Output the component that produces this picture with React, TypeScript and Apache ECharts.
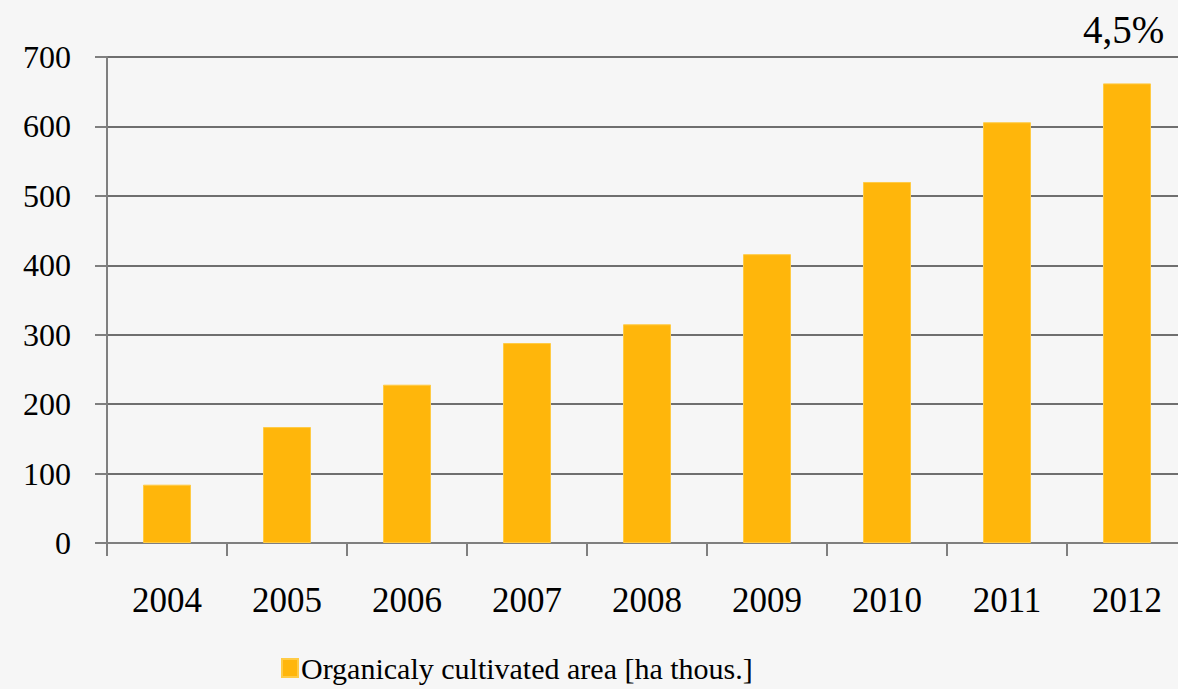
import React, { useEffect, useRef } from "react";
import * as echarts from "echarts";

const years = ["2004", "2005", "2006", "2007", "2008", "2009", "2010", "2011", "2012"];
const areaValues = [84, 167, 228, 288, 315, 416, 520, 606, 662];
const seriesName = "Organicaly cultivated area [ha thous.]";
const shareLabel = "4,5%";

export default function App() {
  const ref = useRef<HTMLDivElement>(null);
  useEffect(() => {
    if (!ref.current) return;
    const chart = echarts.init(ref.current, undefined, { renderer: "svg" });
    const font = "'Liberation Serif', 'DejaVu Serif', serif";
    chart.setOption({
      animation: false,
      backgroundColor: "#f6f6f6",
      textStyle: { fontFamily: font },
      grid: { left: 107, top: 57, width: 1080, height: 486, containLabel: false },
      legend: {
        data: [seriesName],
        left: 276,
        top: 648,
        itemWidth: 16,
        itemHeight: 18,
        itemGap: 0,
        icon: "rect",
        textStyle: { fontFamily: font, fontSize: 30, color: "#000", padding: [0, 0, 0, -2] },
      },
      graphic: [
        {
          type: "text",
          left: 1083,
          top: 10,
          style: { text: shareLabel, fontFamily: font, fontSize: 39, fill: "#000" },
        },
      ],
      xAxis: {
        type: "category",
        data: years,
        boundaryGap: true,
        axisLine: { show: true, lineStyle: { color: "#7f7f7f", width: 2 } },
        axisTick: { show: true, length: 13, lineStyle: { color: "#7f7f7f", width: 2 } },
        axisLabel: { fontFamily: font, fontSize: 35, color: "#000", margin: 40 },
      },
      yAxis: {
        type: "value",
        min: 0,
        max: 700,
        interval: 100,
        axisLine: { show: true, lineStyle: { color: "#7f7f7f", width: 2 } },
        axisTick: { show: true, length: 12, lineStyle: { color: "#7f7f7f", width: 2 } },
        splitLine: { show: true, lineStyle: { color: "#6f6f6f", width: 2 } },
        axisLabel: { fontFamily: font, fontSize: 32, color: "#000", margin: 36 },
      },
      series: [
        {
          name: seriesName,
          type: "bar",
          data: areaValues,
          barWidth: 48,
          itemStyle: { color: "#FFB60B", borderColor: "#FFCB45", borderWidth: 1 },
        },
      ],
    });
    return () => chart.dispose();
  }, []);
  return (
    <div style={{ position: "absolute", left: 0, top: 0, width: 1178, height: 689, overflow: "hidden" }}>
      <div ref={ref} style={{ width: 1200, height: 689 }} />
    </div>
  );
}
